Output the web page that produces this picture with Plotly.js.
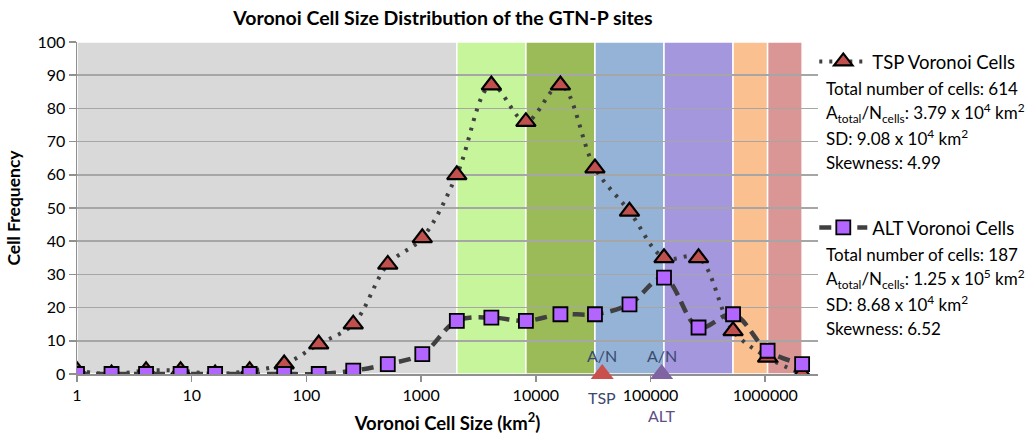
<!DOCTYPE html>
<html><head><meta charset="utf-8">
<script src="https://cdn.plot.ly/plotly-3.0.1.min.js"></script>
<style>body{margin:0;background:#fff}#c{width:1030px;height:436px}</style>
</head><body><div id="c"></div>
<script>
// Cell size bins (km²)
var cellSize = [1,2,4,8,16,32,64,128,256,512,1024,2048,4096,8192,16384,32768,65536,131072,262144,524288,1048576,2097152];
var tspFreq = [1,0,1,1,0,1,3,9,15,33,41,60,87,76,87,62,49,35,35,13,5,0];
var altFreq = [0,0,0,0,0,0,0,0,1,3,6,16,17,16,18,18,21,29,14,18,7,3];
// Background size classes
var bandEdges = [1,2048,8192,32768,131072,524288,1048576,2097152];
var bandColors = ['#d9d9d9','#c6f59b','#9bbb59','#95b3d7','#a497dd','#fac090','#d99694'];
// A_total/N_cells markers (on the x axis)
var anValues = [37900,125000];
var anBase = [0,0];
var anNames = ['TSP','ALT'];
var anColors = ['#c9504d','#8064a2'];
var tickVals = [1,10,100,1000,10000,100000,1000000];
var tickText = ['1','10','100','1000','10000','100000','1000000'];
var tspStats = ['Total number of cells: 614','A<sub>total</sub>/N<sub>cells</sub>: 3.79 x 10<sup>4</sup> km<sup>2</sup>','SD: 9.08 x 10<sup>4</sup> km<sup>2</sup>','Skewness: 4.99'];
var altStats = ['Total number of cells: 187','A<sub>total</sub>/N<sub>cells</sub>: 1.25 x 10<sup>5</sup> km<sup>2</sup>','SD: 8.68 x 10<sup>4</sup> km<sup>2</sup>','Skewness: 6.52'];

var F = 'Lato, "Open Sans", sans-serif';
var shapes = [];
for (var i = 0; i < bandColors.length; i++) {
  shapes.push({type:'rect', layer:'below', xref:'x', yref:'y', x0:bandEdges[i], x1:bandEdges[i+1], y0:0, y1:100,
    fillcolor:bandColors[i], line:{color:'#ffffff', width:1.5}});
}
var traces = [
  {x:cellSize, y:tspFreq, name:'TSP Voronoi Cells', mode:'lines+markers', legend:'legend',
   line:{color:'#404040', width:4, dash:'3px,7px', shape:'spline', smoothing:1},
   marker:{symbol:'triangle-up', size:17, color:'#c0504d', line:{color:'#000', width:2.2}}},
  {x:cellSize, y:altFreq, name:'ALT Voronoi Cells', mode:'lines+markers', legend:'legend2',
   line:{color:'#404040', width:4.5, dash:'12px,7px', shape:'spline', smoothing:1},
   marker:{symbol:'square', size:14, color:'#b266ff', line:{color:'#000', width:1.8}}},
  {x:anValues, y:anBase, mode:'markers', showlegend:false, cliponaxis:false, hoverinfo:'skip',
   marker:{symbol:'triangle-up', size:20, color:anColors, line:{width:0}}}
];
var ann = [];
for (var k = 0; k < anValues.length; k++) {
  ann.push({x:Math.log10(anValues[k]), y:5.6, xref:'x', yref:'y', yanchor:'middle', showarrow:false, text:'A/N',
    font:{family:F, size:16, color:'#3a4a6e'}});
  ann.push({x:Math.log10(anValues[k]), y:k===0 ? -0.072 : -0.124, xref:'x', yref:'paper', yanchor:'middle', showarrow:false, text:anNames[k],
    font:{family:F, size:16, color:k===0 ? '#3a4a6e' : '#5d4e85'}});
}
function stats(lines, y0) {
  for (var j = 0; j < lines.length; j++) {
    ann.push({xref:'paper', yref:'paper', x:1.008, xanchor:'left', y:y0 - j*0.0745, yanchor:'middle', showarrow:false,
      text:lines[j], font:{family:F, size:17, color:'#000'}, align:'left'});
  }
}
stats(tspStats, 0.86);
stats(altStats, 0.36);

var layout = {
  width:1030, height:436, paper_bgcolor:'#fff', plot_bgcolor:'#fff',
  margin:{l:77, r:212, t:42, b:62, autoexpand:false},
  title:{text:'<b>Voronoi Cell Size Distribution of the GTN-P sites</b>', x:0.43, xanchor:'center', y:0.958, yanchor:'middle',
    font:{family:F, size:19.5, color:'#000'}},
  xaxis:{type:'log', range:[0, 6.46], tickvals:tickVals, ticktext:tickText, showgrid:false, zeroline:false, layer:'below traces',
    showline:true, linecolor:'#909090', linewidth:1.5, ticks:'outside', ticklen:6, tickcolor:'#909090', tickwidth:1.5,
    tickfont:{family:F, size:16, color:'#000'},
    title:{text:'<b>Voronoi Cell Size (km<sup>2</sup>)</b>', font:{family:F, size:18.5, color:'#000'}, standoff:14}},
  yaxis:{range:[0,100], dtick:10, showgrid:true, gridcolor:'#a6a6a6', gridwidth:1.5, zeroline:false, layer:'below traces',
    showline:true, linecolor:'#909090', linewidth:1.5, ticks:'outside', ticklen:7, tickcolor:'#909090', tickwidth:1.5,
    tickfont:{family:F, size:16, color:'#000'},
    title:{text:'<b>Cell Frequency</b>', font:{family:F, size:17.5, color:'#000'}, standoff:12}},
  shapes:shapes, annotations:ann,
  legend:{x:0.995, xanchor:'left', y:0.94, yanchor:'middle', bgcolor:'rgba(0,0,0,0)', font:{family:F, size:18.5, color:'#000'}, itemwidth:48},
  legend2:{x:0.995, xanchor:'left', y:0.44, yanchor:'middle', bgcolor:'rgba(0,0,0,0)', font:{family:F, size:18.5, color:'#000'}, itemwidth:48},
  showlegend:true
};
Plotly.newPlot('c', traces, layout, {displayModeBar:false, staticPlot:true});
</script></body></html>
